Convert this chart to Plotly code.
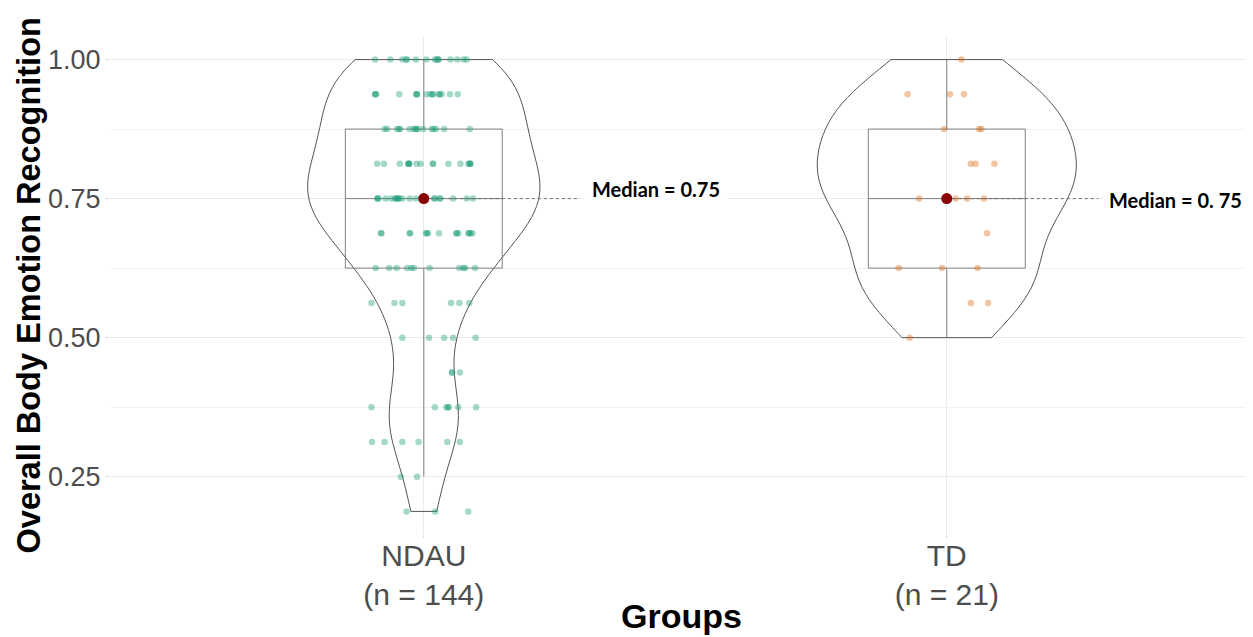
import numpy as np
import plotly.graph_objects as go

# ---------------- data ----------------
group_pos = [1, 2]
group_labels = ["NDAU<br>(n = 144)", "TD<br>(n = 21)"]
median_texts = ["Median = 0.75", "Median = 0. 75"]
x_title = "Groups"
y_title = "Overall Body Emotion Recognition"

score_ticks = [0.25, 0.50, 0.75, 1.00]
score_tick_text = ["0.25", "0.50", "0.75", "1.00"]
score_minor = [0.375, 0.625, 0.875]

# NDAU: score levels and how many children scored each level
ndau_levels = [1.0, 0.9375, 0.875, 0.8125, 0.75, 0.6875, 0.625,
               0.5625, 0.5, 0.4375, 0.375, 0.3125, 0.25, 0.1875]
ndau_counts = [15, 16, 16, 17, 22, 15, 11, 6, 5, 3, 7, 6, 2, 3]
# horizontal jitter of each NDAU point (category units)
ndau_jitter = [
    -0.093, -0.064, -0.041, -0.034, -0.032, -0.015, 0.005, 0.021, 0.025,
    0.028, 0.028, 0.051, 0.064, 0.076, 0.082,
    -0.093, -0.093, -0.091, -0.047, -0.015, -0.013, -0.013, 0.005, 0.013,
    0.017, 0.017, 0.029, 0.030, 0.034, 0.050, 0.065,
    -0.075, -0.070, -0.051, -0.047, -0.046, -0.027, -0.019, -0.015, -0.015,
    -0.011, -0.001, 0.015, 0.019, 0.023, 0.039, 0.088,
    -0.089, -0.076, -0.046, -0.030, -0.029, -0.028, -0.028, -0.014, -0.006,
    0.017, 0.018, 0.047, 0.070, 0.085, 0.088, 0.089, 0.089,
    -0.089, -0.088, -0.087, -0.073, -0.062, -0.055, -0.052, -0.051, -0.049,
    -0.047, -0.041, -0.027, -0.015, -0.003, 0.0, 0.020, 0.021, 0.031, 0.031,
    0.056, 0.082, 0.094,
    -0.082, -0.081, -0.027, -0.026, 0.004, 0.006, 0.008, 0.029, 0.062, 0.063,
    0.066, 0.085, 0.087, 0.089, 0.093,
    -0.092, -0.066, -0.052, -0.032, -0.024, -0.019, 0.011, 0.068, 0.076,
    0.079, 0.098,
    -0.100, -0.056, -0.041, 0.052, 0.068, 0.087,
    -0.041, 0.010, 0.039, 0.056, 0.099,
    0.054, 0.054, 0.069,
    -0.100, 0.021, 0.043, 0.047, 0.047, 0.066, 0.100,
    -0.099, -0.075, -0.041, -0.010, 0.045, 0.069,
    -0.044, -0.013,
    -0.033, 0.022, 0.085,
]

# TD
td_levels = [1.0, 0.9375, 0.875, 0.8125, 0.75, 0.6875, 0.625, 0.5625, 0.5]
td_counts = [1, 3, 3, 3, 4, 1, 3, 2, 1]
td_jitter = [
    0.028,
    -0.075, 0.006, 0.033,
    -0.005, 0.062, 0.066,
    0.046, 0.055, 0.091,
    -0.053, 0.017, 0.039, 0.071,
    0.077,
    -0.092, -0.009, 0.059,
    0.046, 0.079,
    -0.071,
]

# ---------------- styling ----------------
point_colors = ["rgba(27,158,119,0.40)", "rgba(217,95,2,0.36)"]
violin_widths = [0.444, 0.495]
box_width = 0.3
median_line_len = [0.295, 0.29]
label_offset = [0.308, 0.296]
label_yshift = [10, -1]
ytick_font = dict(family="Liberation Sans, Arial", size=27, color="#4d4d4d")
xtick_font = dict(family="Liberation Sans, Arial", size=30, color="#4d4d4d")
ytitle_font = dict(family="Liberation Sans, Arial", size=32.5, color="black", weight="bold")
xtitle_font = dict(family="Liberation Sans, Arial", size=34, color="black", weight="bold")
label_font = dict(family="Lato, Open Sans", size=20, color="black", weight="bold")

ndau_scores = np.repeat(ndau_levels, ndau_counts)
td_scores = np.repeat(td_levels, td_counts)
assert len(ndau_scores) == len(ndau_jitter) and len(td_scores) == len(td_jitter)

groups = [(ndau_scores, np.array(ndau_jitter)), (td_scores, np.array(td_jitter))]


def nrd0(v):
    v = np.asarray(v, dtype=float)
    iqr = np.percentile(v, 75) - np.percentile(v, 25)
    s = min(np.std(v, ddof=1), iqr / 1.34)
    return 0.9 * s * len(v) ** (-0.2)


fig = go.Figure()

for i, (scores, jit) in enumerate(groups):
    pos = group_pos[i]
    fig.add_trace(go.Violin(
        x0=pos, y=scores, name="", width=violin_widths[i],
        bandwidth=nrd0(scores), spanmode="hard", points=False,
        fillcolor="rgba(0,0,0,0)", line=dict(color="#555555", width=1),
        box=dict(visible=False), meanline=dict(visible=False),
        hoverinfo="skip", showlegend=False,
    ))

for i, (scores, jit) in enumerate(groups):
    pos = group_pos[i]
    q1, med, q3 = np.percentile(scores, [25, 50, 75])
    iqr = q3 - q1
    lo = scores[scores >= q1 - 1.5 * iqr].min()
    hi = scores[scores <= q3 + 1.5 * iqr].max()
    fig.add_trace(go.Box(
        x=[pos], q1=[q1], median=[med], q3=[q3], lowerfence=[lo], upperfence=[hi],
        width=box_width, whiskerwidth=0, boxpoints=False,
        fillcolor="rgba(0,0,0,0)", line=dict(color="#808080", width=1),
        hoverinfo="skip", showlegend=False,
    ))

for i, (scores, jit) in enumerate(groups):
    pos = group_pos[i]
    fig.add_trace(go.Scatter(
        x=pos + jit, y=scores, mode="markers",
        marker=dict(color=point_colors[i], size=6.5, line=dict(width=0)),
        showlegend=False, hoverinfo="skip",
    ))

for i, (scores, jit) in enumerate(groups):
    pos = group_pos[i]
    med = float(np.median(scores))
    fig.add_trace(go.Scatter(
        x=[pos, pos + median_line_len[i]], y=[med, med], mode="lines",
        line=dict(color="#6e6e6e", width=1, dash="dot"),
        showlegend=False, hoverinfo="skip",
    ))
    fig.add_annotation(
        x=pos + label_offset[i], y=med, text=median_texts[i], showarrow=False,
        xanchor="left", yanchor="middle", font=label_font,
        bgcolor="white", borderpad=6, yshift=label_yshift[i],
    )

fig.add_trace(go.Scatter(
    x=group_pos, y=[float(np.median(s)) for s, _ in groups], mode="markers",
    marker=dict(color="#8B0000", size=11), showlegend=False, hoverinfo="skip",
))

# axis titles
fig.add_annotation(x=-0.0709, y=0.5, xref="paper", yref="paper", text=y_title,
                   textangle=-90, showarrow=False, font=ytitle_font,
                   xanchor="center", yanchor="middle")
fig.add_annotation(x=0.5, y=-0.165, xref="paper", yref="paper", text=x_title,
                   showarrow=False, font=xtitle_font,
                   xanchor="center", yanchor="middle")

# the page body adds an 8 px offset, so the figure is 8 px smaller on each side
fig.update_layout(
    width=1245, height=629,
    margin=dict(l=102, r=0, t=29, b=103),
    paper_bgcolor="white", plot_bgcolor="white",
    boxmode="overlay", violinmode="overlay",
    showlegend=False,
)
fig.update_xaxes(
    range=[0.4, 2.5855], tickvals=group_pos, ticktext=group_labels,
    tickfont=xtick_font, showgrid=True, gridcolor="#ebebeb", gridwidth=1,
    zeroline=False, showline=False, ticks="outside", ticklen=3, tickcolor="#d9d9d9",
    ticklabelstandoff=-8, automargin=False,
)
fig.update_yaxes(
    range=[0.1469, 1.0406], tickvals=score_ticks, ticktext=score_tick_text,
    tickfont=ytick_font, showgrid=True, gridcolor="#ebebeb", gridwidth=1,
    minor=dict(tickvals=score_minor, showgrid=True, gridcolor="#f2f2f2", gridwidth=1),
    zeroline=False, showline=False, ticks="outside", ticklen=3, tickcolor="#d9d9d9",
    automargin=False,
)

fig.write_html("out.html")
